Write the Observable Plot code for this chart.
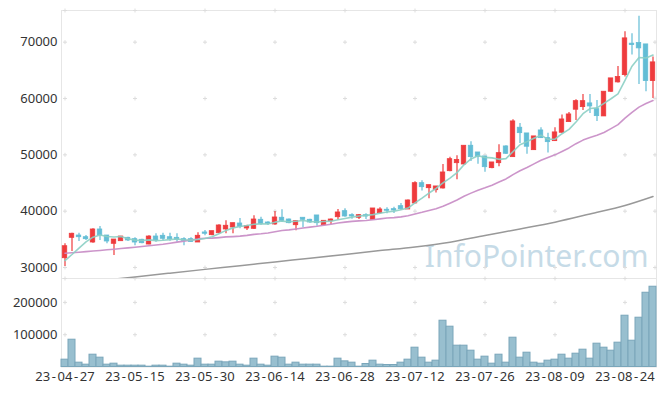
<!DOCTYPE html>
<html><head><meta charset="utf-8">
<script src="https://cdn.jsdelivr.net/npm/d3@7"></script>
<script src="https://cdn.jsdelivr.net/npm/@observablehq/plot@0.6"></script>
<style>
body{margin:0;background:#fff;}
#chart svg{display:block;}
</style></head><body><div id="chart"></div>
<script>
const dates = ["23-04-27","23-04-28","23-05-02","23-05-03","23-05-04","23-05-08","23-05-09","23-05-10","23-05-11","23-05-12",
"23-05-15","23-05-16","23-05-17","23-05-18","23-05-19","23-05-22","23-05-23","23-05-24","23-05-25","23-05-26",
"23-05-30","23-05-31","23-06-01","23-06-02","23-06-05","23-06-07","23-06-08","23-06-09","23-06-12","23-06-13",
"23-06-14","23-06-15","23-06-16","23-06-19","23-06-20","23-06-21","23-06-22","23-06-23","23-06-26","23-06-27",
"23-06-28","23-06-29","23-06-30","23-07-03","23-07-04","23-07-05","23-07-06","23-07-07","23-07-10","23-07-11",
"23-07-12","23-07-13","23-07-14","23-07-17","23-07-18","23-07-19","23-07-20","23-07-21","23-07-24","23-07-25",
"23-07-26","23-07-27","23-07-28","23-07-31","23-08-01","23-08-02","23-08-03","23-08-04","23-08-07","23-08-08",
"23-08-09","23-08-10","23-08-11","23-08-14","23-08-16","23-08-17","23-08-18","23-08-21","23-08-22","23-08-23",
"23-08-24","23-08-25","23-08-28","23-08-29","23-08-30"];
const open = [31650,35270,35680,35380,34440,36750,35680,34210,34670,35270,
35030,34920,34080,35500,35630,35380,35270,35030,35030,34440,
36220,35740,36090,36750,37100,37810,36930,36870,38470,37990,
37640,38830,38520,37510,38830,38470,39240,37510,38220,38930,
40000,39290,38830,39290,38470,39640,40250,40360,40890,40300,
41370,44970,44080,43730,44030,47100,48520,48290,51610,50420,
49710,47640,48520,51490,49590,54810,53800,50830,54330,52960,
52430,53920,55810,58010,58470,59130,58110,56820,61200,62860,
64150,69730,69840,69600,63090];
const high = [34210,36090,36090,35680,36870,37280,35680,34970,35500,35380,
35270,35030,35630,35990,36090,36090,35990,35270,35270,36160,
36570,36450,37580,38290,37870,38700,37510,39180,38930,38120,
39950,40250,38610,38220,38830,38580,39240,38340,38610,40300,
40430,39540,39410,39540,40480,40600,40600,40710,41370,41990,
45220,45400,44620,44390,48300,49590,49840,51610,52320,50420,
49710,48650,51790,51610,56230,55570,53800,53270,54810,53850,
54810,57050,57530,59780,60720,60720,59660,61200,63570,65700,
71860,71500,74580,69600,67350];
const low = [30180,32840,34600,34800,34320,34800,34200,32130,34670,34620,
33850,34210,34030,34490,34800,34670,34490,33850,34440,34440,
35630,35630,35990,35990,35990,36870,36570,36750,37510,37460,
37510,37990,37760,36520,37050,37870,37330,37460,37640,38440,
38930,38580,38520,38520,38470,39500,39540,39590,40120,40300,
41310,43590,42220,43230,43940,47000,45580,48170,48830,48350,
46910,47550,47880,50070,49590,52020,50120,50780,52910,50340,
52380,53850,55810,56110,57880,57350,55930,56820,61080,62730,
63800,67700,62500,61200,60010];
const close = [33780,35990,35380,35030,36750,35680,34620,34970,35500,34800,
34440,34320,35500,34800,35100,35030,34920,34740,34530,35630,
35990,36450,37460,37410,37870,37230,37340,38520,37760,37760,
38880,38290,37870,38220,38470,37990,37870,38290,38520,39770,
39060,39060,39290,39060,40480,40300,40070,40120,40360,41900,
44970,44260,44620,44390,46870,49230,49090,51610,49590,49660,
47810,48650,50300,50190,55930,53850,51440,53270,52960,52250,
53980,56280,57170,59530,59530,58590,56870,61200,63570,63800,
70670,69480,68900,63090,66410];
const volume = [22700,84500,13400,7200,38100,28900,7200,10300,4100,4100,
4100,4100,1000,4100,4100,1000,10300,7200,4100,25800,
7200,7200,16500,14400,16500,7200,4100,25800,7200,4100,
32000,28900,7200,13400,7200,7200,7200,1000,1000,25800,
17500,13400,1000,9300,19600,7200,6200,6200,13400,22700,
59800,28900,13400,19600,143300,124800,66000,66000,50500,22700,
32000,10300,38100,13400,90700,28900,44300,13400,10300,19600,
22700,38100,25800,41200,53600,25800,72200,59800,50500,75300,
158800,81400,152600,229900,248500];
const ma5 = [31240,32310,33430,34560,35386,35766,35492,35410,35504,35114,
34866,34806,34912,34772,34832,34950,35070,34918,34864,34970,
35162,35468,36012,36588,37036,37284,37462,37674,37744,37722,
38052,38242,38112,38204,38346,38168,38084,38168,38228,38488,
38702,38940,39140,39248,39390,39638,39840,40006,40266,40550,
41484,42322,43222,44028,45022,45874,46840,48238,49278,49836,
49552,49464,49202,49322,50576,51784,52342,52936,53490,52754,
52780,53748,54528,55842,57298,58220,58338,59144,59952,60806,
63222,65744,67284,67188,67710];
const ma20 = [32540,32630,32720,32820,32920,33030,33140,33250,33370,33490,
33610,33740,33870,34000,34140,34320,34500,34680,34870,35076,
35186,35209,35313,35432,35488,35566,35702,35879,35992,36140,
36362,36561,36679,36850,37019,37167,37314,37492,37691,37898,
38052,38182,38274,38356,38487,38640,38777,38857,38987,39194,
39498,39797,40134,40443,40863,41425,41986,42652,43205,43700,
44137,44617,45167,45724,46496,47174,47742,48400,49030,49547,
49998,50599,51226,51983,52616,53084,53473,53953,54652,55359,
56502,57543,58473,59118,59642];
const maLongIdx = [0,5,10,15,20,25,30,35,40,45,50,55,60,65,70,75,80,84];
const maLong = [27000,27670,28330,29000,29670,30330,31000,31660,32330,33000,33650,34500,35700,36850,38050,39500,41000,42600];
const priceTicks = [30000,40000,50000,60000,70000];
const volTicks = [100000,200000];

const n = dates.length;
const idx = d3.range(n);
const xTicks = d3.range(0, n, 10);
const xDomain = [-0.5, n - 0.5];
const RED = "#ee3b3d", BLUE = "#63bdd5";
const upIdx = idx.filter(i => close[i] >= open[i]);
const downIdx = idx.filter(i => close[i] < open[i]);
const longRows = maLongIdx.map((i, k) => ({i, v: maLong[k]}));
const FONT = "'Noto Sans', sans-serif";
const plusSymbol = {draw(ctx, size) {const s = Math.sqrt(size / Math.PI); ctx.moveTo(-s, 0); ctx.lineTo(s, 0); ctx.moveTo(0, -s); ctx.lineTo(0, s);}};
const plusOpts = {symbol: plusSymbol, r: 2, stroke: "#dddddd", fill: "none", strokeWidth: 1};

function candles(ids, color) {
  return [
    Plot.ruleX(ids, {x: i => i, y1: i => low[i], y2: i => high[i], stroke: color, strokeWidth: 1.2}),
    Plot.rect(ids, {x1: i => i - 0.32, x2: i => i + 0.32, y1: i => open[i], y2: i => close[i], fill: color, stroke: color, strokeWidth: 0.8})
  ];
}

const pricePlot = Plot.plot({
  width: 665, height: 278,
  marginTop: 10, marginBottom: 0, marginLeft: 61, marginRight: 9,
  style: {fontFamily: FONT, fontSize: "13px", color: "#333", background: "white"},
  x: {domain: xDomain, axis: null},
  y: {domain: [28050, 75620], ticks: priceTicks, tickSize: 0, tickPadding: 4, tickFormat: d => String(d), label: null},
  marks: [
    Plot.frame({stroke: "#e6e6e6"}),
    Plot.text(["InfoPointer.com"], {frameAnchor: "bottom-right", dx: -8, dy: -12, textAnchor: "end", fontSize: 30, fill: "#c6dbe7", fontFamily: FONT}),
    Plot.dot(d3.cross(xTicks, priceTicks), {x: d => d[0], y: d => d[1], ...plusOpts}),
    Plot.dot(xTicks, {x: d => d, frameAnchor: "top", ...plusOpts}),
    Plot.dot(xTicks, {x: d => d, frameAnchor: "bottom", ...plusOpts}),
    Plot.dot(priceTicks, {y: d => d, frameAnchor: "right", dx: -1.5, ...plusOpts}),
    Plot.line(longRows, {x: "i", y: "v", stroke: "#999999", strokeWidth: 1.5, curve: "monotone-x", clip: true}),
    ...candles(upIdx, RED),
    ...candles(downIdx, BLUE),
    Plot.line(idx, {x: i => i, y: i => ma20[i], stroke: "#c98fc7", strokeWidth: 1.6, strokeOpacity: 0.95}),
    Plot.line(idx, {x: i => i, y: i => ma5[i], stroke: "#8ccfc4", strokeWidth: 1.6, strokeOpacity: 0.9})
  ]
});

const volPlot = Plot.plot({
  width: 665, height: 118,
  marginTop: 0, marginBottom: 29.5, marginLeft: 61, marginRight: 9,
  style: {fontFamily: FONT, fontSize: "13px", color: "#333", background: "white"},
  x: {domain: xDomain, ticks: xTicks, tickFormat: i => dates[i], tickSize: 0, tickPadding: 5, label: null},
  y: {domain: [0, 274000], ticks: volTicks, tickSize: 0, tickPadding: 4, tickFormat: d => String(d), label: null},
  marks: [
    Plot.frame({stroke: "#e6e6e6"}),
    Plot.dot(d3.cross(xTicks, volTicks), {x: d => d[0], y: d => d[1], ...plusOpts}),
    Plot.dot(xTicks, {x: d => d, frameAnchor: "top", ...plusOpts}),
    Plot.rectY(idx, {x1: i => i - 0.5, x2: i => i + 0.5, y1: 0, y2: i => volume[i], fill: "#98bfcf", stroke: "#7aa6ba", strokeWidth: 1})
  ]
});

const holder = document.getElementById("chart");
holder.appendChild(pricePlot);
holder.appendChild(volPlot);

// widen the hyphens of the date labels a little, text content stays the same
volPlot.querySelectorAll("text").forEach(t => {
  const s = t.textContent;
  if (!/^\d\d-\d\d-\d\d$/.test(s)) return;
  while (t.firstChild) t.removeChild(t.firstChild);
  const parts = s.split(/(-)/);
  parts.forEach((p, k) => {
    const ts = document.createElementNS("http://www.w3.org/2000/svg", "tspan");
    ts.textContent = p;
    if (k > 0) ts.setAttribute("dx", "1.6");
    t.appendChild(ts);
  });
});
</script>
</body></html>
